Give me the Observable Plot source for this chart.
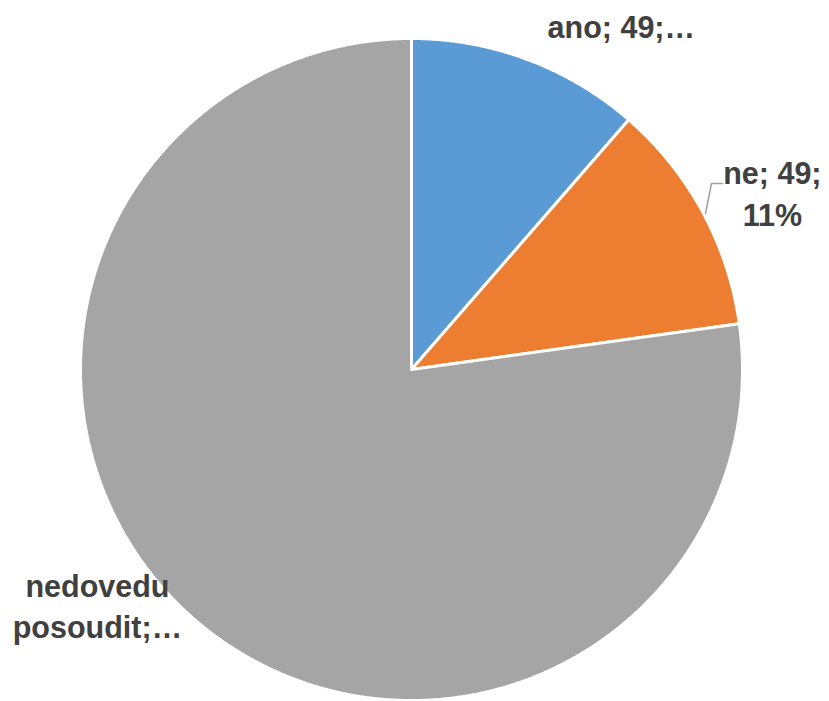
<!DOCTYPE html>
<html>
<head>
<meta charset="utf-8">
<script src="https://cdn.jsdelivr.net/npm/d3@7"></script>
<script src="https://cdn.jsdelivr.net/npm/@observablehq/plot@0.6"></script>
<style>
  html, body { margin: 0; padding: 0; background: #fff; }
  #chart { width: 829px; height: 701px; }
</style>
</head>
<body>
<div id="chart"></div>
<script>
// Data
const categories = ["ano", "ne", "nedovedu posoudit"];
const values = [49, 49, 332];
const labelTexts = ["ano; 49;…", "ne; 49;\n11%", "nedovedu\nposoudit;…"];
const colors = ["#5B9BD5", "#ED7D31", "#A5A5A5"];

const W = 829, H = 701;
const cx = 411, cy = 369, R = 331;

// Build slice polygons in unit coordinates (y up)
const arcs = d3.pie().sort(null).value(d => d.value)(
  categories.map((c, i) => ({category: c, value: values[i]}))
);
const slicePts = [];
for (const a of arcs) {
  const n = Math.max(2, Math.ceil((a.endAngle - a.startAngle) / (Math.PI / 720)));
  slicePts.push({category: a.data.category, x: 0, y: 0});
  for (let k = 0; k <= n; k++) {
    const t = a.startAngle + (a.endAngle - a.startAngle) * k / n;
    slicePts.push({category: a.data.category, x: Math.sin(t), y: Math.cos(t)});
  }
  slicePts.push({category: a.data.category, x: 0, y: 0});
}

// label placement (polar: angle in degrees clockwise from top, radius as fraction of R)
const labelPlace = [
  {angle: 31.3, r: 1.22},
  {angle: 63.8, r: 1.215},
  {angle: 233.2, r: 1.185}
];
const labels = categories.map((c, i) => {
  const t = labelPlace[i].angle * Math.PI / 180;
  return {category: c, text: labelTexts[i],
    x: Math.sin(t) * labelPlace[i].r, y: Math.cos(t) * labelPlace[i].r};
});
// leader line for "ne" label (unit coords derived from pixel geometry)
const px = (x) => (x - cx) / R, py = (y) => (cy - y) / R;
const leader = [
  {x: px(705), y: py(213)},
  {x: px(711), y: py(183)},
  {x: px(722), y: py(183)}
];

const chart = Plot.plot({
  width: W,
  height: H,
  margin: 0,
  x: {domain: [-cx / R, (W - cx) / R], range: [0, W], axis: null},
  y: {domain: [-(H - cy) / R, cy / R], range: [H, 0], axis: null},
  color: {domain: categories, range: colors},
  style: {background: "#fff", fontFamily: "'Liberation Sans', Arial, sans-serif"},
  marks: [
    Plot.line(slicePts, {x: "x", y: "y", z: "category", fill: "category",
      stroke: "#fff", strokeWidth: 3, strokeLinejoin: "miter", curve: "linear"}),
    Plot.line(leader, {x: "x", y: "y", stroke: "#A0A0A0", strokeWidth: 1.5}),
    Plot.text(labels, {x: "x", y: "y", text: "text", fill: "#404040",
      fontSize: 30.5, fontWeight: "bold", lineHeight: 1.36, textAnchor: "middle", lineAnchor: "middle"})
  ]
});
document.getElementById("chart").appendChild(chart);
</script>
</body>
</html>
